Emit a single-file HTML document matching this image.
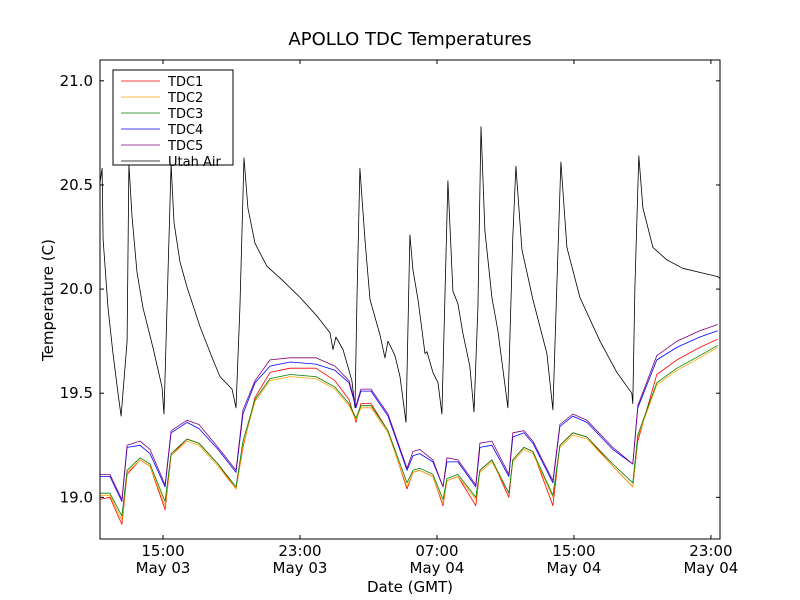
<!DOCTYPE html>
<html><head><meta charset="utf-8"><style>
body{margin:0;background:#fff}
svg{display:block;font-family:"DejaVu Sans","Liberation Sans",sans-serif}
</style></head><body>
<svg id="chart" width="800" height="600" xmlns="http://www.w3.org/2000/svg">
<rect x="0" y="0" width="800" height="600" fill="#fff"/>
<text x="410" y="45" text-anchor="middle" font-size="18">APOLLO TDC Temperatures</text>
<text x="410" y="592" text-anchor="middle" font-size="15">Date (GMT)</text>
<text x="53" y="300" text-anchor="middle" font-size="15" transform="rotate(-90 53 300)">Temperature (C)</text>
<g id="series"></g>
<g id="axes"></g>
<g id="legend"></g>
</svg>
<script>
const airT=[11.32,11.44,11.50,11.79,12.08,12.37,12.55,12.90,13.01,13.19,13.48,13.83,14.41,14.94,15.06,15.29,15.47,15.64,15.99,16.40,17.16,17.92,18.33,19.03,19.26,19.49,19.73,19.96,20.37,21.07,22.01,23.00,24.00,24.75,24.93,25.10,25.51,26.03,26.21,26.33,26.50,26.79,27.09,27.67,27.96,28.14,28.55,28.84,29.19,29.42,29.60,29.89,30.30,30.41,30.76,31.06,31.29,31.64,31.93,32.22,32.51,32.92,33.16,33.39,33.57,33.80,34.21,34.56,35.14,35.43,35.61,35.96,36.60,37.42,37.77,38.00,38.24,38.59,39.35,40.52,41.51,42.38,42.44,42.56,42.79,43.03,43.61,44.43,45.36,46.35,47.40,47.53];
const airV=[20.51,20.58,20.24,19.91,19.69,19.50,19.39,19.75,20.60,20.35,20.08,19.91,19.72,19.53,19.40,20.08,20.60,20.32,20.13,20.01,19.82,19.66,19.58,19.52,19.43,19.91,20.63,20.39,20.22,20.11,20.04,19.96,19.87,19.79,19.71,19.77,19.71,19.56,19.43,19.96,20.58,20.24,19.95,19.78,19.67,19.75,19.68,19.58,19.36,20.26,20.09,19.95,19.69,19.70,19.60,19.55,19.40,20.52,19.99,19.93,19.79,19.63,19.41,19.91,20.78,20.28,19.96,19.80,19.43,20.25,20.59,20.19,19.95,19.69,19.42,20.01,20.61,20.20,19.96,19.75,19.60,19.50,19.45,20.01,20.64,20.39,20.20,20.14,20.10,20.08,20.06,20.05];
const tdcT=[11.32,11.90,12.60,12.90,13.66,14.24,15.12,15.47,16.40,17.10,18.21,19.26,19.67,20.37,21.25,22.42,23.93,25.04,25.86,26.27,26.56,27.15,28.14,29.25,29.60,30.00,30.76,31.35,31.58,32.22,33.27,33.51,34.21,35.20,35.43,36.08,36.60,37.77,38.18,38.94,39.76,41.27,42.44,42.73,43.84,45.01,46.35,47.40];
const tdc1=[18.99,19.00,18.87,19.11,19.18,19.15,18.94,19.20,19.28,19.26,19.16,19.04,19.24,19.48,19.60,19.62,19.62,19.56,19.47,19.36,19.45,19.45,19.32,19.04,19.12,19.13,19.10,18.96,19.08,19.10,18.96,19.13,19.18,19.00,19.18,19.24,19.22,18.96,19.25,19.31,19.29,19.15,19.05,19.27,19.59,19.66,19.72,19.76];
const tdc2=[19.01,19.01,18.89,19.12,19.18,19.15,18.96,19.20,19.27,19.25,19.15,19.04,19.25,19.46,19.56,19.58,19.57,19.52,19.44,19.37,19.43,19.43,19.31,19.05,19.12,19.13,19.10,18.97,19.08,19.10,18.99,19.12,19.17,19.02,19.17,19.23,19.21,19.00,19.24,19.30,19.28,19.15,19.05,19.29,19.54,19.61,19.67,19.72];
const tdc3=[19.02,19.02,18.91,19.13,19.19,19.16,18.98,19.21,19.28,19.26,19.16,19.05,19.27,19.47,19.57,19.59,19.58,19.53,19.45,19.38,19.44,19.44,19.32,19.07,19.13,19.14,19.11,18.99,19.09,19.11,19.00,19.13,19.18,19.02,19.18,19.24,19.22,19.01,19.25,19.31,19.29,19.16,19.07,19.30,19.55,19.62,19.68,19.73];
const tdc4=[19.10,19.10,18.98,19.24,19.25,19.21,19.05,19.31,19.36,19.33,19.23,19.12,19.40,19.55,19.63,19.65,19.64,19.61,19.55,19.43,19.51,19.51,19.39,19.13,19.20,19.21,19.17,19.05,19.17,19.17,19.05,19.24,19.25,19.10,19.29,19.31,19.26,19.07,19.34,19.39,19.36,19.23,19.16,19.43,19.66,19.72,19.77,19.80];
const tdc5=[19.11,19.11,18.99,19.25,19.27,19.23,19.06,19.32,19.37,19.35,19.24,19.13,19.42,19.56,19.66,19.67,19.67,19.63,19.56,19.44,19.52,19.52,19.40,19.14,19.22,19.23,19.18,19.05,19.19,19.18,19.06,19.26,19.27,19.11,19.31,19.32,19.27,19.08,19.35,19.40,19.37,19.24,19.16,19.44,19.68,19.75,19.80,19.83];
const xTicks=[15,23,31,39,47];
const xTickTime=["15:00","23:00","07:00","15:00","23:00"];
const xTickDate=["May 03","May 03","May 04","May 04","May 04"];
const yTicks=[19.0,19.5,20.0,20.5,21.0];
const legendLabels=["TDC1","TDC2","TDC3","TDC4","TDC5","Utah Air"];

const X0=100,X1=720,Y0=539,Y1=60,XMIN=11.32,XMAX=47.53,YMIN=18.8,YMAX=21.1;
const sx=h=>X0+(h-XMIN)/(XMAX-XMIN)*(X1-X0);
const sy=v=>Y0-(v-YMIN)/(YMAX-YMIN)*(Y0-Y1);
const NS="http://www.w3.org/2000/svg";
function mk(tag,attrs,parent){const e=document.createElementNS(NS,tag);for(const k in attrs)e.setAttribute(k,attrs[k]);parent.appendChild(e);return e;}
const series=document.getElementById('series');
const axes=document.getElementById('axes');
const legend=document.getElementById('legend');
const defs=mk('defs',{},series);
const cp=mk('clipPath',{id:'clip'},defs);
mk('rect',{x:X0,y:Y1,width:X1-X0,height:Y0-Y1},cp);

const list=[[tdcT,tdc1,'#ff0000','tdc1-line'],[tdcT,tdc2,'#ffa500','tdc2-line'],[tdcT,tdc3,'#008000','tdc3-line'],[tdcT,tdc4,'#0000ff','tdc4-line'],[tdcT,tdc5,'#800080','tdc5-line'],[airT,airV,'#000000','utah-air-line']];
const order=[5,0,1,2,3,4];
order.forEach(i=>{const [t,v,c,n]=list[i];
 const d=t.map((h,j)=>(j?'L':'M')+sx(h).toFixed(1)+','+sy(v[j]).toFixed(1)).join('');
 const p=mk('path',{d:d,fill:'none',stroke:c,'stroke-width':0.8,'stroke-linejoin':'round','clip-path':'url(#clip)'},series);
 
 
});

const frame=mk('rect',{x:X0,y:Y1,width:X1-X0,height:Y0-Y1,fill:'none',stroke:'#000','stroke-width':1},axes);


xTicks.forEach((h,i)=>{const x=sx(h);
 mk('line',{x1:x,y1:Y0,x2:x,y2:Y0-4,stroke:'#000'},axes);
 mk('line',{x1:x,y1:Y1,x2:x,y2:Y1+4,stroke:'#000'},axes);
 const t=mk('text',{x:x,y:556,'text-anchor':'middle','font-size':15},axes);
 t.textContent=xTickTime[i];
 
 
 const t2=mk('text',{x:x,y:573,'text-anchor':'middle','font-size':15},axes);
 t2.textContent=xTickDate[i];
 
 
});
yTicks.forEach(v=>{const y=sy(v);
 mk('line',{x1:X0,y1:y,x2:X0+4,y2:y,stroke:'#000'},axes);
 mk('line',{x1:X1,y1:y,x2:X1-4,y2:y,stroke:'#000'},axes);
 const t=mk('text',{x:93,y:y+5,'text-anchor':'end','font-size':15},axes);
 t.textContent=v.toFixed(1);
 
 
});

const lb=mk('rect',{x:113,y:70,width:120,height:95,fill:'#fff',stroke:'#000','stroke-width':1},legend);


legendLabels.forEach((l,i)=>{const y=81+i*16;const c=list[i][2];
 const g=mk('g',{},legend);
 
 
 mk('line',{x1:121,y1:y,x2:160,y2:y,stroke:c,'stroke-width':0.8},g);
 const t=mk('text',{x:168,y:y+5,'font-size':13},g);
 t.textContent=l;
});
</script>
</body></html>
